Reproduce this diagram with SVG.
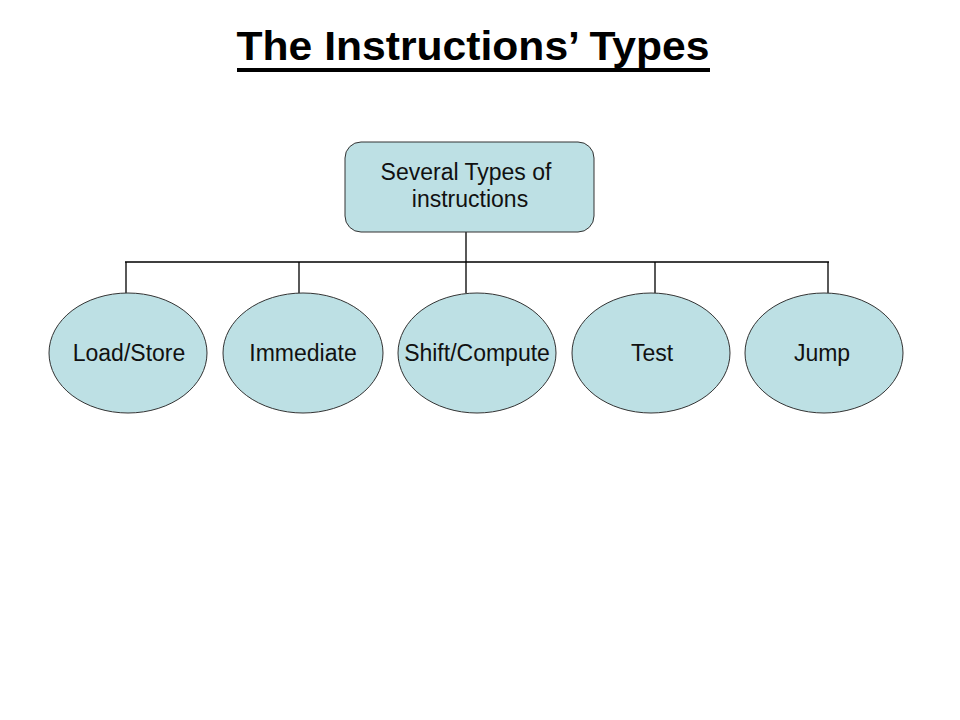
<svg xmlns="http://www.w3.org/2000/svg" width="960" height="720" viewBox="0 0 960 720">
<style>
.node{fill:#BDE0E4;stroke:#333;stroke-width:1}
.lbl{font-family:"Liberation Sans",Arial,sans-serif;font-size:23px;fill:#111;text-anchor:middle}
.conn{stroke:#000;stroke-width:1.3;fill:none}
</style>
<rect width="960" height="720" fill="#fff"/>
<g id="title">
<text x="473" y="60" font-family="Liberation Sans, Arial, sans-serif" font-size="40" font-weight="bold" text-anchor="middle" fill="#000" textLength="473" lengthAdjust="spacingAndGlyphs">The Instructions’ Types</text>
<rect x="237" y="68" width="473" height="4" fill="#000"/>
</g>
<g id="connectors">
<path class="conn" d="M466,232 V262 M125,262 H829 M126,262 V293 M299,262 V293 M466,262 V293 M655,262 V293 M828,262 V293"/>
</g>
<g id="root">
<rect class="node" x="345" y="142" width="249" height="90" rx="16" ry="16"/>
<text class="lbl" x="466" y="180">Several Types of</text>
<text class="lbl" x="470" y="207">instructions</text>
</g>
<g id="n-loadstore">
<ellipse class="node" cx="128" cy="353" rx="79" ry="60"/>
<text class="lbl" x="129" y="361">Load/Store</text>
</g>
<g id="n-immediate">
<ellipse class="node" cx="303" cy="353" rx="80" ry="60"/>
<text class="lbl" x="303" y="361">Immediate</text>
</g>
<g id="n-shift">
<ellipse class="node" cx="477" cy="353" rx="79" ry="60"/>
<text class="lbl" x="477" y="361">Shift/Compute</text>
</g>
<g id="n-test">
<ellipse class="node" cx="651" cy="353" rx="79" ry="60"/>
<text class="lbl" x="652" y="361">Test</text>
</g>
<g id="n-jump">
<ellipse class="node" cx="824" cy="353" rx="79" ry="60"/>
<text class="lbl" x="822" y="361">Jump</text>
</g>
</svg>
